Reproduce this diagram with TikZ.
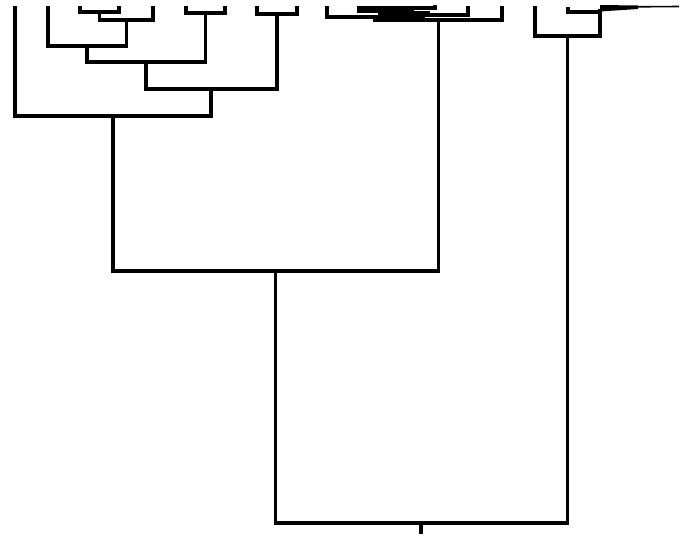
\documentclass[tikz,border=0pt]{standalone}
\begin{document}
\begin{tikzpicture}[
    x=1pt, y=-1pt,   % coordinate in pixel, asse y verso il basso
    ramo/.style={draw=black, line width=3.3pt, line join=miter},
    grappolo/.style={fill=black},
    filo/.style={draw=black, line width=1.6pt}
]
    \useasboundingbox (0,0) rectangle (683,536);

    % =========================================================================
    % 1. FOGLIE (estremi superiori dei rami)
    % =========================================================================
    \coordinate (f1) at (15,6);
    \coordinate (f2) at (48,6);
    \coordinate (f3) at (80,6);
    \coordinate (f4) at (119,6);
    \coordinate (f5) at (153,6);
    \coordinate (f6) at (186,6);
    \coordinate (f7) at (225,6);
    \coordinate (f8) at (257,6);
    \coordinate (f9) at (297,6);
    \coordinate (f10) at (327,6);
    \coordinate (f11) at (359,6);
    \coordinate (f12) at (435,5);
    \coordinate (f13) at (468,6);
    \coordinate (f14) at (502,6);
    \coordinate (f15) at (535,6);
    \coordinate (f16) at (568,7);

    % =========================================================================
    % 2. GRUPPO DI SINISTRA
    % =========================================================================
    \coordinate (m1) at (99.5,12);
    \coordinate (m2) at (126.5,20);
    \coordinate (m3) at (87,46);
    \coordinate (m4) at (205.5,13);
    \coordinate (m5) at (146,62);
    \coordinate (m6) at (277,14);
    \coordinate (m7) at (211,89);
    \coordinate (m8) at (113,116);

    \draw[ramo] (f3) |- (m1) -| (f4);
    \draw[ramo] (m1) |- (m2) -| (f5);
    \draw[ramo] (f2) |- (m3) -| (m2);
    \draw[ramo] (f6) |- (m4) -| (f7);
    \draw[ramo] (m3) |- (m5) -| (m4);
    \draw[ramo] (f8) |- (m6) -| (f9);
    \draw[ramo] (m5) |- (m7) -| (m6);
    \draw[ramo] (f1) |- (m8) -| (m7);

    % =========================================================================
    % 3. GRUPPO CENTRALE (fusioni molto basse, ammassate in alto)
    % =========================================================================
    \coordinate (k1) at (397,8);
    \coordinate (b1) at (401,11);
    \coordinate (g1) at (379.5,11);
    \coordinate (n1) at (423,15);
    \coordinate (n2) at (375,17);
    \coordinate (n3) at (438.5,20);

    \draw[ramo] (f11) |- (k1) -| (f12);
    \fill[grappolo] (386,8.5) -- (414,9) -- (414,14) -- (390,14.5) -- (386,13) -- cycle;
    \draw[filo] (414,12) -- (430,12);
    \draw[ramo] (f11) |- (g1) -- (b1);
    \draw[ramo] (g1) |- (n1) -| (f13);
    \draw[ramo] (f10) |- (n2) -| (n1);
    \draw[ramo] (n2) |- (n3) -| (f14);

    % =========================================================================
    % 4. GRUPPO DI DESTRA
    % =========================================================================
    \coordinate (r0) at (600,9);
    \coordinate (r1) at (600,12);
    \coordinate (r2) at (567.5,36);
    \coordinate (r3) at (679,6.5);

    \draw[ramo] (f16) |- (r1);
    \fill[grappolo] (600,5) -- (638,5.5) -- (638,9) -- (600,11.5) -- cycle;
    \draw[filo] (636,6.8) -- (r3);
    \draw[ramo] (f15) |- (r2) -| (r0);

    % =========================================================================
    % 5. FUSIONI SUPERIORI E RADICE
    % =========================================================================
    \coordinate (m9) at (275.5,271);
    \coordinate (m10) at (421,523);
    \coordinate (radice) at (421,534);

    \draw[ramo] (m8) |- (m9) -| (n3);
    \draw[ramo] (m9) |- (m10) -| (r2);
    \draw[ramo] (m10) -- (radice);

\end{tikzpicture}
\end{document}
